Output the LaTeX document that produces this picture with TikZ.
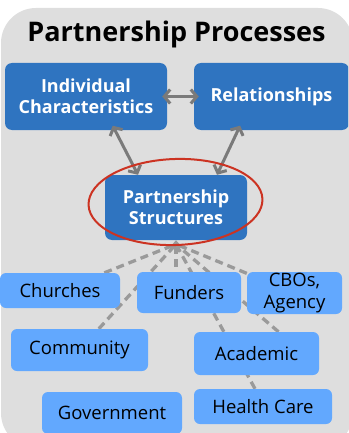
\documentclass[tikz,border=0pt]{standalone}
\usepackage{fontspec}
\setmainfont{Open Sans}
\usetikzlibrary{arrows.meta,shapes.geometric}
\definecolor{darkbox}{HTML}{2F74C0}
\definecolor{lightbox}{HTML}{62A8FE}
\definecolor{bggray}{HTML}{DEDEDE}
\definecolor{arrowgray}{HTML}{7A7A7A}
\definecolor{dashgray}{HTML}{9A9A9A}
\definecolor{ringred}{HTML}{CC3322}
\pgfdeclarelayer{bg}
\pgfdeclarelayer{links}
\pgfsetlayers{bg,links,main}

\begin{document}
\begin{tikzpicture}[x=1pt,y=-1pt,
		bigbox/.style={fill=darkbox, rounded corners=7pt, text=white, inner sep=0pt,
			align=center, font=\fontsize{18}{21}\selectfont\bfseries},
		smallbox/.style={fill=lightbox, rounded corners=6pt, text=black, inner sep=0pt,
			align=center, font=\fontsize{18.5}{22}\selectfont},
		twoway/.style={draw=arrowgray, line width=3pt,
			{Straight Barb[length=6pt,width=14pt]}-{Straight Barb[length=6pt,width=14pt]}},
		dashline/.style={draw=dashgray, line width=3.3pt, dash pattern=on 8pt off 5pt}]
		\useasboundingbox (0,0) rectangle (348,433);
		\clip (0,0) rectangle (348,433);
		\begin{pgfonlayer}{bg}
			\fill[bggray, rounded corners=35pt] (1,8) rectangle (353,448);
		\end{pgfonlayer}
		\node[font=\fontsize{27}{30}\selectfont\bfseries] (title) at (176.5,34) {Partnership Processes};
		% process boxes
		\node[bigbox, minimum width=162pt, minimum height=67pt] (indiv) at (86,96.5) {Individual\\Characteristics};
		\node[bigbox, minimum width=155pt, minimum height=67pt] (rel) at (271.5,96.5) {Relationships};
		\node[bigbox, minimum width=142pt, minimum height=65pt] (ps) at (176,207.5) {Partnership\\Structures};
		% partners
		\node[smallbox, minimum width=120pt, minimum height=35pt] (churches) at (60,290.5) {Churches};
		\node[smallbox, minimum width=104pt, minimum height=41pt] (funders) at (189,292.5) {Funders};
		\node[smallbox, minimum width=95pt, minimum height=42pt] (cbos) at (294.5,293) {CBOs,\\Agency};
		\node[smallbox, minimum width=137pt, minimum height=42pt] (community) at (79.5,350) {Community};
		\node[smallbox, minimum width=125pt, minimum height=43pt] (academic) at (256.5,353.5) {Academic};
		\node[smallbox, minimum width=140pt, minimum height=42pt] (government) at (112,413) {Government};
		\node[smallbox, minimum width=138pt, minimum height=35pt] (health) at (263,406.5) {Health Care};
		% arrows
		\draw[twoway, shorten <=-5pt, shorten >=-5pt] (indiv.east) -- (rel.west);
		\draw[twoway, shorten <=-5pt] ([xshift=29pt]indiv.south) -- ([xshift=-38pt]ps.north);
		\draw[twoway, shorten <=-5pt] ([xshift=-33.5pt]rel.south) -- ([xshift=41pt]ps.north);
		\coordinate (hub) at ([yshift=-4pt]ps.south);
		\begin{pgfonlayer}{links}
			\draw[dashline] (churches) -- (hub);
			\draw[dashline] (community) -- (hub);
			\draw[dashline, -{Triangle[length=7pt,width=12pt]}] (ps.south |- funders.center) -- (ps.south);
			\draw[dashline] ([xshift=-8pt]health.north) -- (hub);
			\draw[dashline] ([xshift=22pt]academic.north) -- (hub);
			\draw[dashline] (cbos) -- (hub);
		\end{pgfonlayer}
		\node[draw=ringred, line width=2pt, ellipse, minimum width=174pt, minimum height=86pt, rotate=2] (ring) at (175.5,202) {};
	\end{tikzpicture}
\end{document}
